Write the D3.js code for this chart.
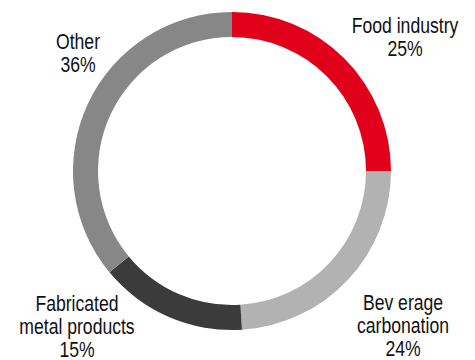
<!DOCTYPE html>
<html>
<head>
<meta charset="utf-8">
<script src="https://cdn.jsdelivr.net/npm/d3@7"></script>
<style>
  html, body { margin: 0; padding: 0; background: #fff; }
  svg { display: block; }
</style>
</head>
<body>
<script>
// Share of end-use segments, in percent (clockwise from 12 o'clock)
const categories = ["Food industry", "Beverage carbonation", "Fabricated metal products", "Other"];
const shares = [25, 24, 15, 36];
const colors = ["#E1001A", "#B2B2B2", "#3B3B3B", "#878787"];
// Label lines as drawn beside each segment
const labelLines = [
  ["Food industry", "25%"],
  ["Bev erage", "carbonation", "24%"],
  ["Fabricated", "metal products", "15%"],
  ["Other", "36%"]
];

const W = 475, H = 360;
const cx = 232, cy = 171, rOuter = 159, rInner = 134;

const svg = d3.select("body").append("svg")
  .attr("width", W).attr("height", H);

const data = categories.map((c, i) => ({ name: c, value: shares[i], color: colors[i], lines: labelLines[i] }));

const pie = d3.pie().sort(null).value(d => d.value).startAngle(0).endAngle(2 * Math.PI);
const arc = d3.arc().innerRadius(rInner).outerRadius(rOuter);

const ring = svg.append("g").attr("transform", `translate(${cx},${cy})`);
ring.selectAll("path")
  .data(pie(data))
  .join("path")
  .attr("d", arc)
  .attr("fill", d => d.data.color);

// Label anchor points: centre x and first baseline y
const labelPos = [
  { x: 405, y: 33 },
  { x: 403, y: 310 },
  { x: 77, y: 311 },
  { x: 78, y: 49 }
];
const lineStep = 23;

const labels = svg.append("g")
  .attr("font-family", "'Liberation Sans', Arial, sans-serif")
  .attr("font-size", 22)
  .attr("fill", "#111");

data.forEach((d, i) => {
  const g = labels.append("g")
    .attr("transform", `translate(${labelPos[i].x},${labelPos[i].y}) scale(0.8,1)`);
  g.selectAll("text")
    .data(d.lines)
    .join("text")
    .attr("x", 0)
    .attr("y", (t, j) => j * lineStep)
    .attr("text-anchor", "middle")
    .text(t => t);
});
</script>
</body>
</html>
